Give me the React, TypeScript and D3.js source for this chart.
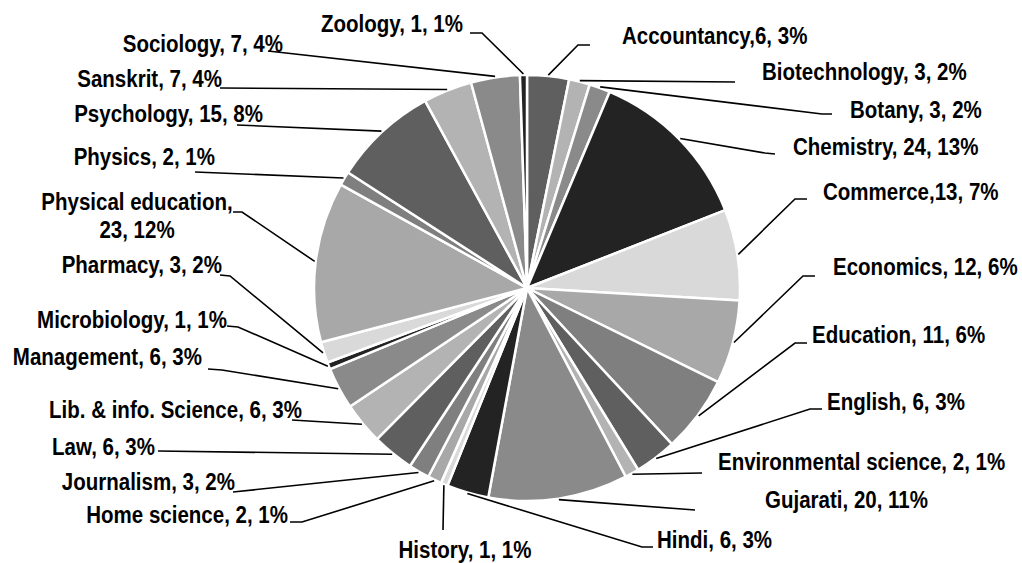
import React from "react"
import * as d3 from "d3"

// subjects in clockwise order from 12 o'clock
const subjects = [
    "Accountancy", "Biotechnology", "Botany", "Chemistry", "Commerce", "Economics",
    "Education", "English", "Environmental science", "Gujarati", "Hindi", "History",
    "Home science", "Journalism", "Law", "Lib. & info. Science", "Management",
    "Microbiology", "Pharmacy", "Physical education", "Physics", "Psychology",
    "Sanskrit", "Sociology", "Zoology",
]
const counts = [6, 3, 3, 24, 13, 12, 11, 6, 2, 20, 6, 1, 2, 3, 6, 6, 6, 1, 3, 23, 2, 15, 7, 7, 1]
// labels written without a space after the name
const tightNames = ["Accountancy", "Commerce"]

const grays = ["#5f5f5f", "#b3b3b3", "#8a8a8a", "#232323", "#d9d9d9", "#a8a8a8", "#7f7f7f"]

// label placement: text anchor point + leader bend points (label side)
interface LabelPos {
    x: number
    y: number
    anchor: "start" | "end" | "middle"
    pts: Array<[number, number]>
}
const labelPos: LabelPos[] = [
    {x: 622, y: 44, anchor: "start", pts: [[590, 45], [578, 45]]},
    {x: 762, y: 80, anchor: "start", pts: [[735, 82]]},
    {x: 850, y: 118, anchor: "start", pts: [[832, 114], [822, 114]]},
    {x: 793, y: 155, anchor: "start", pts: [[775, 154], [765, 153]]},
    {x: 823, y: 200, anchor: "start", pts: [[807, 199], [795, 199]]},
    {x: 833, y: 275, anchor: "start", pts: [[815, 276], [803, 276]]},
    {x: 812, y: 343, anchor: "start", pts: [[807, 343], [795, 343]]},
    {x: 827, y: 410, anchor: "start", pts: [[822, 409], [810, 409]]},
    {x: 718, y: 470, anchor: "start", pts: [[702, 473]]},
    {x: 765, y: 508, anchor: "start", pts: [[695, 510]]},
    {x: 657, y: 548, anchor: "start", pts: [[653, 547], [642, 547]]},
    {x: 465, y: 558, anchor: "middle", pts: [[443, 530]]},
    {x: 288, y: 523, anchor: "end", pts: [[290, 522], [302, 522]]},
    {x: 235, y: 490, anchor: "end", pts: [[233, 492]]},
    {x: 155, y: 455, anchor: "end", pts: [[158, 451]]},
    {x: 302, y: 418, anchor: "end", pts: [[292, 420]]},
    {x: 202, y: 365, anchor: "end", pts: [[208, 369], [222, 370]]},
    {x: 227, y: 328, anchor: "end", pts: [[227, 326], [238, 327]]},
    {x: 222, y: 273, anchor: "end", pts: [[220, 275], [230, 276]]},
    {x: 137, y: 210, anchor: "middle", pts: [[233, 212], [242, 212]]},
    {x: 215, y: 165, anchor: "end", pts: [[195, 172]]},
    {x: 263, y: 122, anchor: "end", pts: [[237, 125]]},
    {x: 222, y: 87, anchor: "end", pts: [[220, 88]]},
    {x: 283, y: 52, anchor: "end", pts: [[268, 51]]},
    {x: 463, y: 32, anchor: "end", pts: [[470, 33], [482, 33]]},
]

const width = 1022
const height = 563
const cx = 527
const cy = 288
const radius = 213
// no narrow font installed: squeeze a bold sans horizontally
const fontSize = 24
const squeeze = 0.855

const App = () => {
    const total = d3.sum(counts)
    const pie = d3.pie<number>().sort(null).value(d => d)
    const arcs = pie(counts)
    const arc = d3.arc<d3.PieArcDatum<number>>().innerRadius(0).outerRadius(radius)
    const line = d3.line()

    const pctOf = (i: number) => Math.round(counts[i] / total * 100)
    const labelText = (i: number) => {
        const sep = tightNames.includes(subjects[i]) ? "," : ", "
        return `${subjects[i]}${sep}${counts[i]}, ${pctOf(i)}%`
    }

    return (
        <svg width={width} height={height} style={{position: "absolute", left: 0, top: 0, background: "#fff"}}
             fontFamily="'Liberation Sans', Arial, sans-serif" fontWeight="bold" fontSize={fontSize}>
            <g transform={`translate(${cx},${cy})`}>
                {arcs.map((a, i) => (
                    <path key={i} d={arc(a) || ""} fill={grays[i % grays.length]}
                          stroke="#fff" strokeWidth={2.5} strokeLinejoin="round"/>
                ))}
            </g>
            {arcs.map((a, i) => {
                const mid = (a.startAngle + a.endAngle) / 2
                const edge: [number, number] = [cx + (radius + 1) * Math.sin(mid), cy - (radius + 1) * Math.cos(mid)]
                const lp = labelPos[i]
                return (
                    <path key={i} d={line([...lp.pts, edge]) || ""} fill="none" stroke="#000" strokeWidth={1.6}/>
                )
            })}
            {labelPos.map((lp, i) => {
                const tf = `translate(${lp.x},${lp.y}) scale(${squeeze},1)`
                if (subjects[i] === "Physical education") {
                    return (
                        <text key={i} transform={tf} textAnchor="middle" fill="#000">
                            <tspan x={0} y={0}>{subjects[i]},</tspan>
                            <tspan x={0} dy={28}>{`${counts[i]}, ${pctOf(i)}%`}</tspan>
                        </text>
                    )
                }
                return (
                    <text key={i} transform={tf} textAnchor={lp.anchor} fill="#000">{labelText(i)}</text>
                )
            })}
        </svg>
    )
}

export default App
